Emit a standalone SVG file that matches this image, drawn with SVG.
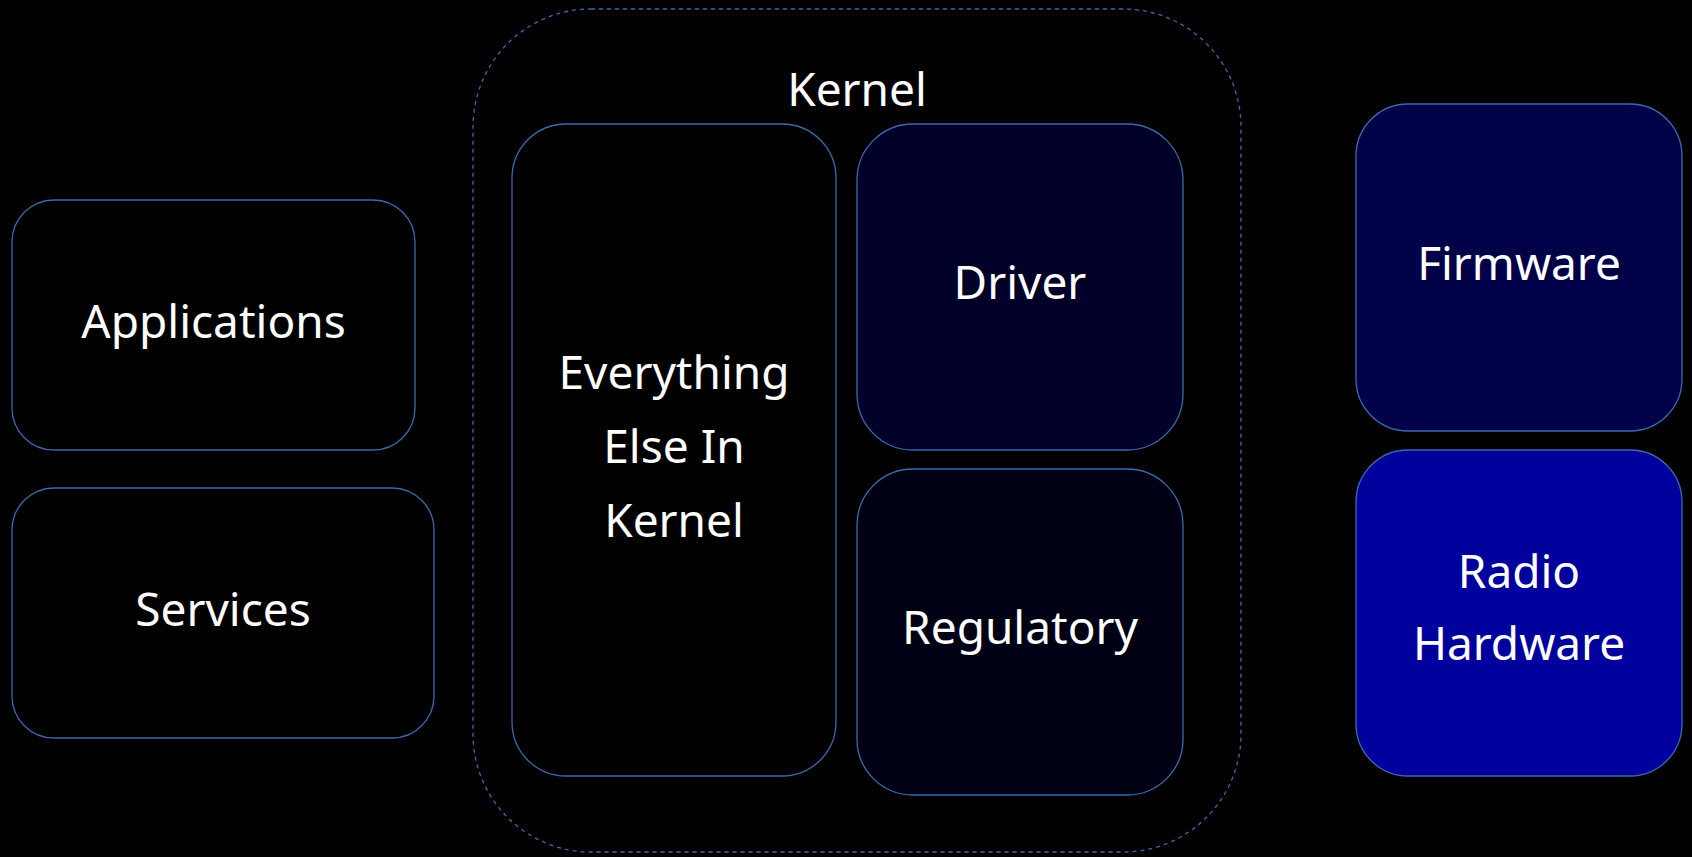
<svg xmlns="http://www.w3.org/2000/svg" width="1692" height="857" viewBox="0 0 1692 857">
<style>
.box{stroke:#3a6aad;stroke-width:1.3}
.lbl{font-family:"Noto Sans","Open Sans",sans-serif;font-size:46px;fill:#ffffff;text-anchor:middle}
.cont{fill:none;stroke:#3a6aad;stroke-width:1.3;stroke-dasharray:4 4}
</style>
<rect width="1692" height="857" fill="#000000"/>
<g id="kernel">
<rect class="cont" x="473" y="9" width="768" height="843" rx="118" ry="118"/>
<text class="lbl" x="857" y="106">Kernel</text>
</g>
<g id="applications">
<rect class="box" x="12" y="200" width="403" height="250" rx="42" fill="#000000"/>
<text class="lbl" x="213.5" y="338">Applications</text>
</g>
<g id="services">
<rect class="box" x="12" y="488" width="422" height="250" rx="42" fill="#000000"/>
<text class="lbl" x="223" y="626">Services</text>
</g>
<g id="everything-else">
<rect class="box" x="512" y="124" width="324" height="652" rx="54" fill="#000000"/>
<text class="lbl" x="674" y="389">Everything</text>
<text class="lbl" x="674" y="463">Else In</text>
<text class="lbl" x="674" y="537">Kernel</text>
</g>
<g id="driver">
<rect class="box" x="857" y="124" width="326" height="326" rx="56" fill="#000028"/>
<text class="lbl" x="1020" y="299">Driver</text>
</g>
<g id="regulatory">
<rect class="box" x="857" y="469" width="326" height="326" rx="56" fill="#000014"/>
<text class="lbl" x="1020" y="644">Regulatory</text>
</g>
<g id="firmware">
<rect class="box" x="1356" y="104" width="326" height="327" rx="52" fill="#000048"/>
<text class="lbl" x="1519" y="280">Firmware</text>
</g>
<g id="radio-hardware">
<rect class="box" x="1356" y="450" width="326" height="326" rx="52" fill="#00009c"/>
<text class="lbl" x="1519" y="588">Radio</text>
<text class="lbl" x="1519" y="660">Hardware</text>
</g>
<g id="connectors"></g>
</svg>
